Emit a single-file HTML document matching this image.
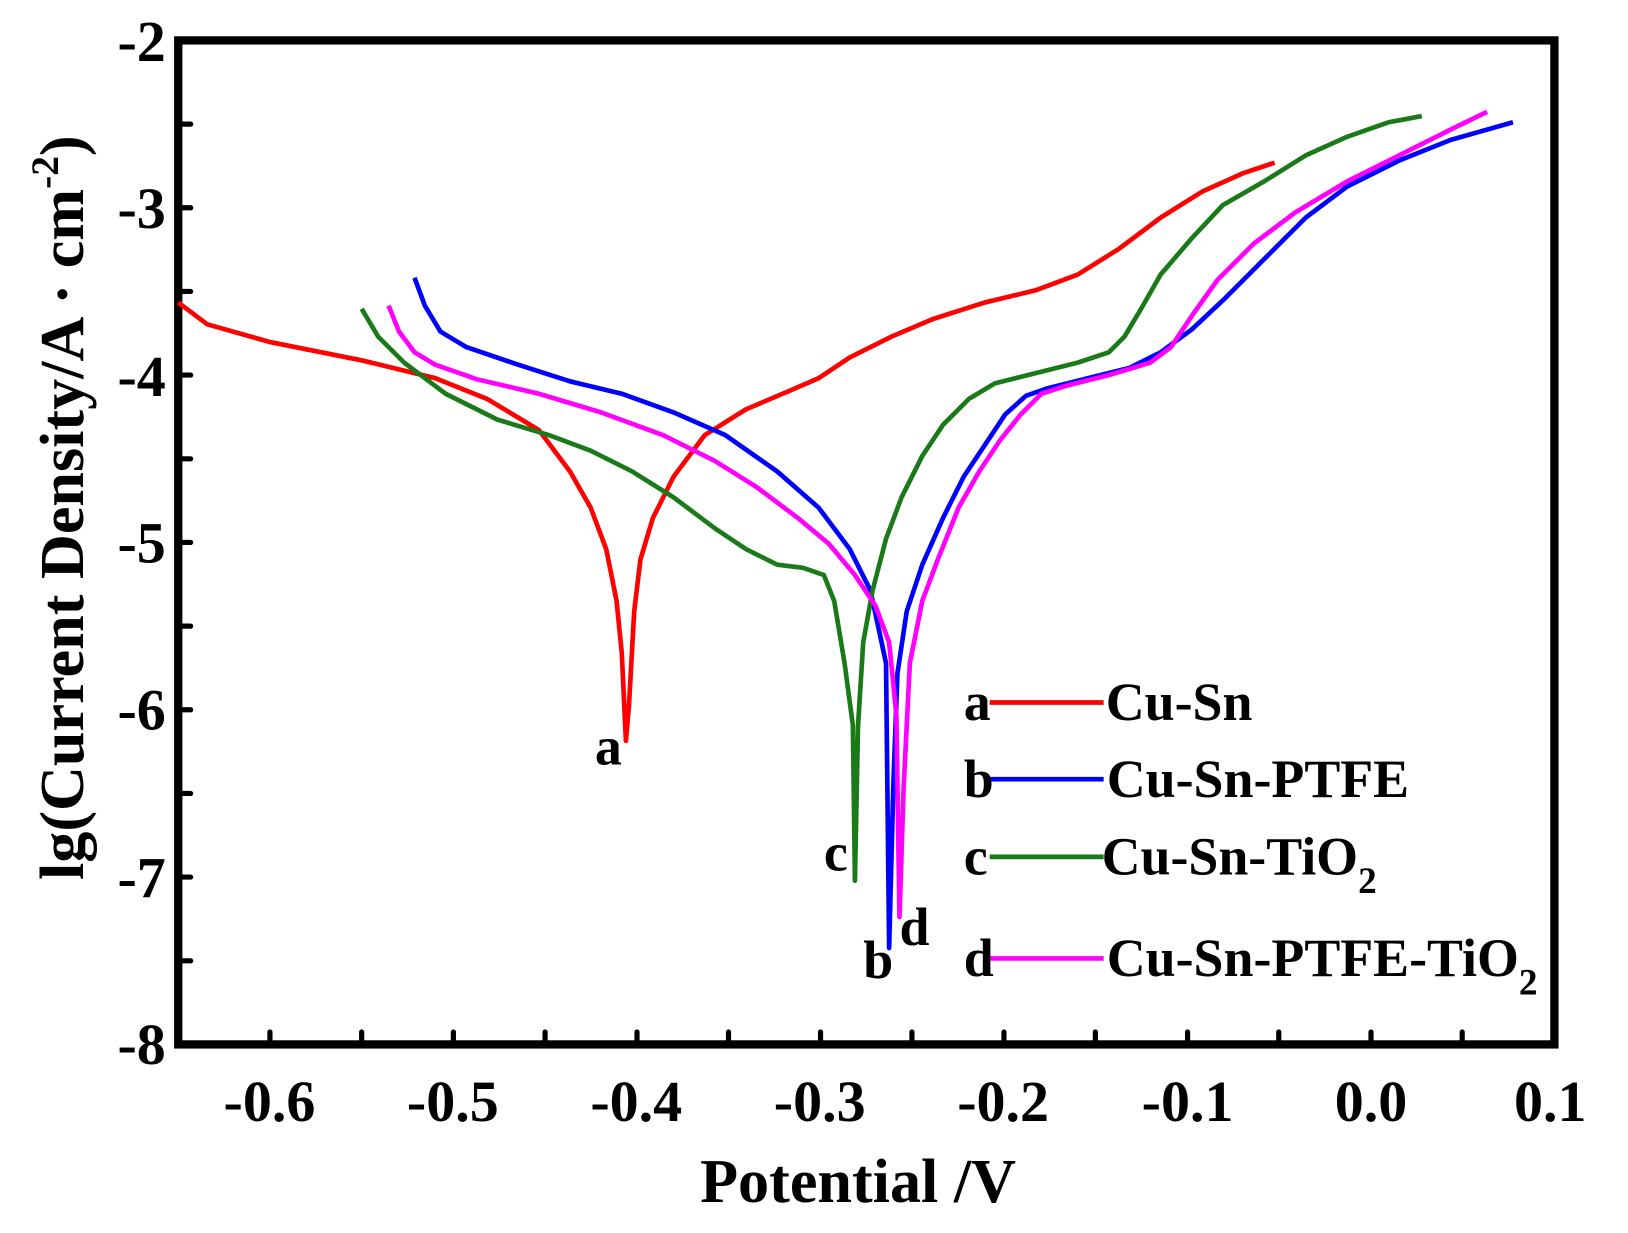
<!DOCTYPE html>
<html><head><meta charset="utf-8"><style>html,body{margin:0;padding:0;background:#fff}svg{display:block}</style></head>
<body>
<svg width="1628" height="1233" viewBox="0 0 1571 1190" preserveAspectRatio="none" xmlns="http://www.w3.org/2000/svg" font-family="Liberation Serif, serif" font-weight="bold">
<rect width="1571" height="1190" fill="#fff"/>
<g stroke="#000" stroke-width="5" stroke-linecap="round">
<line x1="260.5" y1="1008" x2="260.5" y2="996"/><line x1="349" y1="1008" x2="349" y2="996"/><line x1="437.5" y1="1008" x2="437.5" y2="996"/><line x1="526" y1="1008" x2="526" y2="996"/><line x1="614.7" y1="1008" x2="614.7" y2="996"/><line x1="703" y1="1008" x2="703" y2="996"/><line x1="791.8" y1="1008" x2="791.8" y2="996"/><line x1="880" y1="1008" x2="880" y2="996"/><line x1="968.8" y1="1008" x2="968.8" y2="996"/><line x1="1057" y1="1008" x2="1057" y2="996"/><line x1="1146" y1="1008" x2="1146" y2="996"/><line x1="1234" y1="1008" x2="1234" y2="996"/><line x1="1323" y1="1008" x2="1323" y2="996"/><line x1="1411" y1="1008" x2="1411" y2="996"/>
<line x1="172" y1="119.8" x2="184" y2="119.8"/><line x1="172" y1="200.5" x2="184" y2="200.5"/><line x1="172" y1="281.3" x2="184" y2="281.3"/><line x1="172" y1="362" x2="184" y2="362"/><line x1="172" y1="442.8" x2="184" y2="442.8"/><line x1="172" y1="523.5" x2="184" y2="523.5"/><line x1="172" y1="604.3" x2="184" y2="604.3"/><line x1="172" y1="685" x2="184" y2="685"/><line x1="172" y1="765.8" x2="184" y2="765.8"/><line x1="172" y1="846.5" x2="184" y2="846.5"/><line x1="172" y1="927.3" x2="184" y2="927.3"/>
</g>
<rect x="172" y="39" width="1328" height="969" fill="none" stroke="#000" stroke-width="8"/>
<g fill="none" stroke-width="4.5" stroke-linejoin="round">
<polyline stroke="#ff0000" points="172,292 200,313 260,330 350,348 420,365 470,385 520,415 550,455 570,490 585,530 595,580 600,630 604,715 607,680 612,590 618,540 630,500 650,460 680,420 720,395 760,378 790,365 820,345 860,325 900,308 950,292 1000,280 1040,265 1080,240 1120,210 1160,185 1200,167 1230,157"/>
<polyline stroke="#0000ff" points="400,268 410,295 425,320 450,335 500,352 550,368 600,380 650,398 700,420 750,455 790,490 820,530 840,570 855,640 858,915 862,760 866,650 875,590 890,545 910,500 930,460 950,430 970,400 990,382 1010,375 1050,365 1090,355 1120,340 1150,318 1180,290 1220,250 1260,210 1300,180 1350,155 1400,135 1460,118"/>
<polyline stroke="#1a7a1a" points="349,298 365,325 390,350 430,380 480,405 530,420 570,435 610,455 650,480 690,510 720,530 750,545 775,548 795,555 805,580 815,640 823,700 825,850 828,700 833,620 842,570 855,520 870,480 890,440 910,410 935,385 960,370 1000,360 1040,350 1070,340 1085,325 1100,300 1120,265 1150,230 1180,198 1220,175 1260,150 1300,132 1340,118 1372,112"/>
<polyline stroke="#ff00ff" points="375,295 385,320 400,340 420,352 460,366 520,380 580,398 640,420 690,445 730,470 770,500 800,525 825,555 845,585 858,620 865,690 868,885 872,760 878,640 890,580 905,540 925,490 945,455 965,425 985,400 1005,380 1030,372 1070,362 1110,350 1130,335 1150,305 1175,270 1210,235 1250,205 1300,175 1350,150 1400,125 1435,108"/>
<line x1="955" y1="678" x2="1065" y2="678" stroke="#ff0000"/>
<line x1="955" y1="752" x2="1065" y2="752" stroke="#0000ff"/>
<line x1="955" y1="827" x2="1065" y2="827" stroke="#1a7a1a"/>
<line x1="955" y1="925" x2="1065" y2="925" stroke="#ff00ff"/>
</g>
<g font-size="56" fill="#000">
<g text-anchor="end"><text x="160" y="59">-2</text><text x="160" y="220">-3</text><text x="160" y="382">-4</text><text x="160" y="543">-5</text><text x="160" y="704">-6</text><text x="160" y="866">-7</text><text x="160" y="1027">-8</text></g>
<g text-anchor="middle"><text x="260" y="1082">-0.6</text><text x="437" y="1082">-0.5</text><text x="614" y="1082">-0.4</text><text x="791" y="1082">-0.3</text><text x="968" y="1082">-0.2</text><text x="1146" y="1082">-0.1</text><text x="1323" y="1082">0.0</text><text x="1496" y="1082">0.1</text></g>
</g>
<g font-size="52" fill="#000">
<text x="574" y="738">a</text><text x="795" y="840">c</text><text x="833" y="944">b</text><text x="868" y="912">d</text>
<text x="930" y="695">a</text><text x="930" y="769">b</text><text x="930" y="844">c</text><text x="930" y="942">d</text>
<text x="1067" y="695">Cu-Sn</text><text x="1068" y="769">Cu-Sn-PTFE</text><text x="1063" y="844">Cu-Sn-TiO<tspan font-size="36" dy="18">2</tspan></text><text x="1068" y="942">Cu-Sn-PTFE-TiO<tspan font-size="36" dy="18">2</tspan></text>
</g>
<text x="828" y="1160" font-size="60" text-anchor="middle">Potential /V</text>
<text transform="translate(80,490) rotate(-90)" font-size="60" text-anchor="middle">lg(Current Density/A · cm<tspan font-size="38" dy="-24">-2</tspan><tspan dy="24">)</tspan></text>
</svg>
</body></html>
